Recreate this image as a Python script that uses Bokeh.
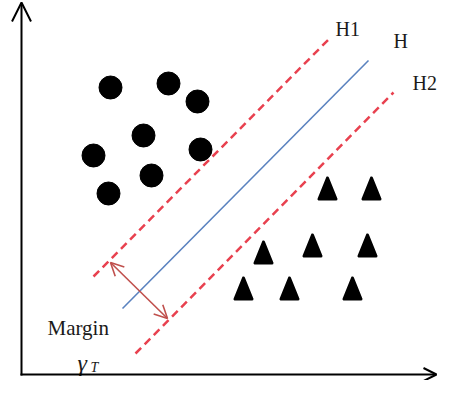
from bokeh.plotting import figure
from bokeh.models import Range1d, Arrow, OpenHead
from bokeh.core.properties import value
from bokeh.embed import file_html
from bokeh.resources import INLINE

# ---- data (reference pixel coordinates, y grows downward) ----
circle_x = [110, 168, 197, 143, 93, 200, 151, 108]
circle_y = [87, 83, 101, 135, 155, 149, 175, 193]

tri_x = [327, 371, 263, 312, 367, 243, 289, 352]
tri_y = [188, 188, 252, 245, 245, 288, 288, 288]

# hyperplanes: H1, H, H2 (start and end points)
h1_x = [93, 331]
h1_y = [276, 36]
h_x = [122, 368]
h_y = [308, 60]
h2_x = [135, 393]
h2_y = [353, 92]

margin_x = [110, 167]
margin_y = [262, 318]

label_text = ["H1", "H", "H2"]
label_x = [335, 393, 412]
label_y = [28, 40, 82]

W, H = 437, 380
p = figure(width=W, height=H, x_range=Range1d(0, W), y_range=Range1d(H, 0),
           output_backend="svg", toolbar_location=None, min_border=0,
           background_fill_color="white", border_fill_color="white")
p.outline_line_color = None
p.xaxis.visible = False
p.yaxis.visible = False
p.xgrid.visible = False
p.ygrid.visible = False

# axes with open arrow heads
p.add_layout(Arrow(end=OpenHead(size=19, line_width=2, line_color="black"),
                   x_start=21, y_start=375, x_end=21, y_end=2,
                   line_width=2, line_color="black"))
p.add_layout(Arrow(end=OpenHead(size=13, line_width=2, line_color="black"),
                   x_start=20, y_start=374, x_end=436, y_end=374,
                   line_width=2, line_color="black"))

# hyperplanes
p.line(h1_x, h1_y, line_color="#e8414f", line_width=2.5, line_dash="8 5")
p.line(h_x, h_y, line_color="#5a82bf", line_width=1.6)
p.line(h2_x, h2_y, line_color="#e8414f", line_width=2.5, line_dash="8 5")

# margin double arrow
p.add_layout(Arrow(start=OpenHead(size=13, line_width=1.6, line_color="#c0504d"),
                   end=OpenHead(size=13, line_width=1.6, line_color="#c0504d"),
                   line_color="#c0504d", line_width=1.6,
                   x_start=margin_x[0], y_start=margin_y[0],
                   x_end=margin_x[1], y_end=margin_y[1]))

# class 1: circles
p.scatter(circle_x, circle_y, size=23, marker="circle", fill_color="black", line_color="black")

# class 2: rounded triangles
half_w, half_h = 8.5, 10.5
tri_xs = [[x, x - half_w, x + half_w] for x in tri_x]
tri_ys = [[y - half_h, y + half_h, y + half_h] for y in tri_y]
p.patches(tri_xs, tri_ys, fill_color="black", line_color="black",
          line_width=3, line_join="round")

# labels
serif = value("Liberation Serif")
p.text(label_x, label_y, text=label_text, text_font=serif, text_font_size="20px",
       text_color="#1a1a1a", text_baseline="alphabetic", text_align="left")
p.text([47], [327], text=["Margin"], text_font=serif, text_font_size="21px",
       text_color="#1a1a1a", text_baseline="alphabetic", text_align="left")
p.text([77], [362], text=["γ"], text_font=serif, text_font_size="24px",
       text_font_style="italic", text_color="#1a1a1a", text_baseline="alphabetic", text_align="left")
p.text([90], [367], text=["T"], text_font=serif, text_font_size="14px",
       text_font_style="italic", text_color="#1a1a1a", text_baseline="alphabetic", text_align="left")

open("out.html", "w").write(file_html(p, INLINE))
